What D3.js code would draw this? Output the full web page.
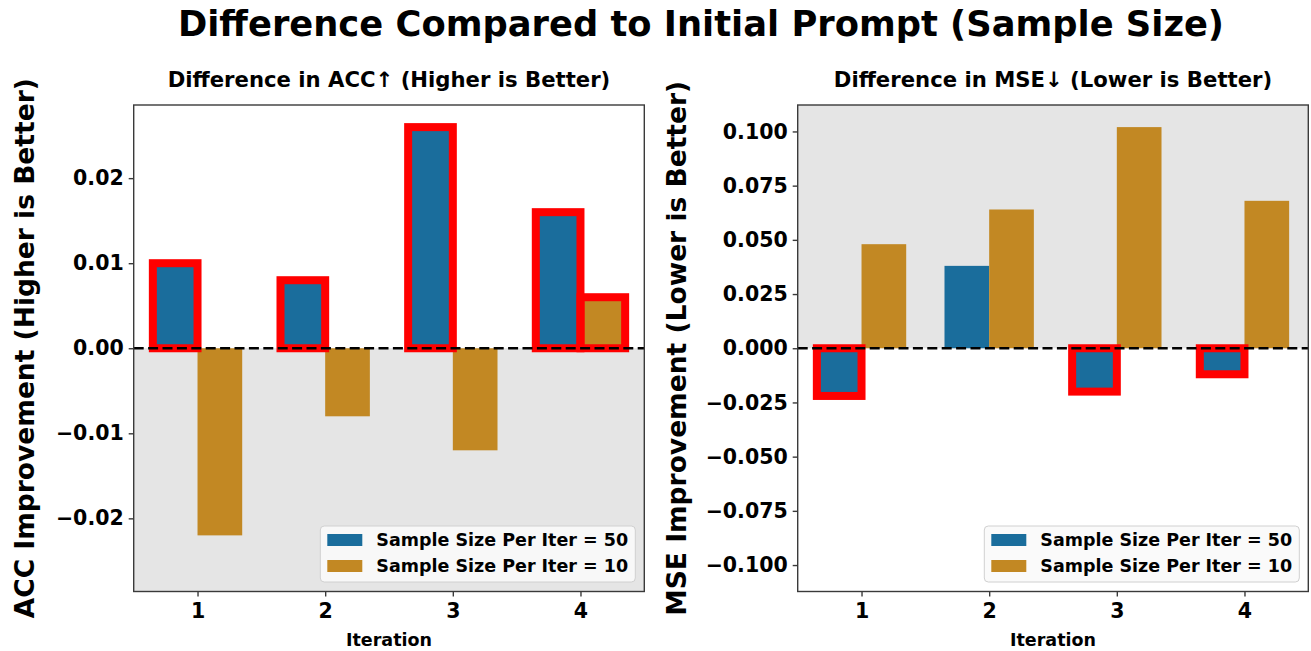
<!DOCTYPE html>
<html>
<head>
<meta charset="utf-8">
<script src="https://cdn.jsdelivr.net/npm/d3@7"></script>
<style>
  html, body { margin: 0; padding: 0; background: #fff; }
  svg { display: block; font-family: "DejaVu Sans", sans-serif; font-weight: bold; }
</style>
</head>
<body>
<svg id="chart" width="1311" height="651"></svg>
<script>
// ---------------- data ----------------
const iterations = [1, 2, 3, 4];
const seriesLabels = ["Sample Size Per Iter = 50", "Sample Size Per Iter = 10"];
const accSize50 = [0.010, 0.008, 0.026, 0.016];
const accSize10 = [-0.022, -0.008, -0.012, 0.006];
const mseSize50 = [-0.022, 0.038, -0.020, -0.012];
const mseSize10 = [0.048, 0.064, 0.102, 0.068];
const accTicks = [-0.02, -0.01, 0.00, 0.01, 0.02];
const mseTicks = [-0.100, -0.075, -0.050, -0.025, 0.000, 0.025, 0.050, 0.075, 0.100];
const mainTitle = "Difference Compared to Initial Prompt (Sample Size)";
const panels = [
  { title: "Difference in ACC\u2191 (Higher is Better)", ylabel: "ACC Improvement (Higher is Better)",
    s50: accSize50, s10: accSize10, ticks: accTicks, fmt: ".2f", higherBetter: true },
  { title: "Difference in MSE\u2193 (Lower is Better)", ylabel: "MSE Improvement (Lower is Better)",
    s50: mseSize50, s10: mseSize10, ticks: mseTicks, fmt: ".3f", higherBetter: false }
];

// ---------------- style ----------------
const colors = ["#1a6d9c", "#c28823"];
const shade = "#e5e5e5";
const spine = "#3a3a3a";
const barWidth = 0.35;

const svg = d3.select("#chart");

svg.append("text")
  .attr("x", 701).attr("y", 36)
  .attr("text-anchor", "middle")
  .style("font-size", "35.3px")
  .text(mainTitle);

const layout = [
  { left: 133.7, right: 644.3, ylabelX: 34 },
  { left: 797.7, right: 1308.3, ylabelX: 686 }
];
const plotTop = 105, plotBottom = 591.5;

panels.forEach((p, i) => {
  const L = layout[i];
  const g = svg.append("g");
  const all = p.s50.concat(p.s10);
  const m = d3.max(all, v => Math.abs(v)) * 1.1;
  const x = d3.scaleLinear().domain([0.5, 4.5]).range([L.left, L.right]);
  const y = d3.scaleLinear().domain([-m, m]).range([plotBottom, plotTop]);

  // shaded "bad" region
  const y0 = y(0);
  if (p.higherBetter) {
    g.append("rect").attr("x", L.left).attr("y", y0).attr("width", L.right - L.left).attr("height", plotBottom - y0).attr("fill", shade);
  } else {
    g.append("rect").attr("x", L.left).attr("y", plotTop).attr("width", L.right - L.left).attr("height", y0 - plotTop).attr("fill", shade);
  }

  const good = v => p.higherBetter ? v > 0 : v < 0;
  const bars = [];
  iterations.forEach((it, k) => {
    bars.push({ x0: it - barWidth, v: p.s50[k], c: colors[0] });
    bars.push({ x0: it, v: p.s10[k], c: colors[1] });
  });

  g.selectAll("rect.bar").data(bars).join("rect")
    .attr("class", "bar")
    .attr("x", d => x(d.x0))
    .attr("width", d => x(d.x0 + barWidth) - x(d.x0))
    .attr("y", d => y(Math.max(0, d.v)))
    .attr("height", d => Math.abs(y(d.v) - y(0)))
    .attr("fill", d => d.c);

  g.selectAll("rect.hl").data(bars.filter(d => good(d.v))).join("rect")
    .attr("class", "hl")
    .attr("x", d => x(d.x0))
    .attr("width", d => x(d.x0 + barWidth) - x(d.x0))
    .attr("y", d => y(Math.max(0, d.v)))
    .attr("height", d => Math.abs(y(d.v) - y(0)))
    .attr("fill", "none")
    .attr("stroke", "#ff0000")
    .attr("stroke-width", 8);

  // zero line
  g.append("line")
    .attr("x1", L.left).attr("x2", L.right)
    .attr("y1", y0).attr("y2", y0)
    .attr("stroke", "#000").attr("stroke-width", 2.6)
    .attr("stroke-dasharray", "10,4.4");

  // frame
  g.append("rect")
    .attr("x", L.left).attr("y", plotTop)
    .attr("width", L.right - L.left).attr("height", plotBottom - plotTop)
    .attr("fill", "none").attr("stroke", spine).attr("stroke-width", 1.4);

  // axes
  const ya = g.append("g").attr("transform", `translate(${L.left},0)`)
    .call(d3.axisLeft(y).tickValues(p.ticks).tickFormat(d3.format(p.fmt)).tickSize(5).tickPadding(5));
  const xa = g.append("g").attr("transform", `translate(0,${plotBottom})`)
    .call(d3.axisBottom(x).tickValues(iterations).tickFormat(d3.format("d")).tickSize(5).tickPadding(7));
  [ya, xa].forEach(a => {
    a.select(".domain").remove();
    a.selectAll(".tick line").attr("stroke", spine).attr("stroke-width", 1.4);
    a.selectAll(".tick text").attr("fill", "#000").style("font-size", "20.5px")
      .style("font-family", "DejaVu Sans").style("font-weight", "bold");
  });

  // titles
  g.append("text").attr("x", (L.left + L.right) / 2).attr("y", 87)
    .attr("text-anchor", "middle").style("font-size", "21.2px").text(p.title);
  g.append("text").attr("x", (L.left + L.right) / 2).attr("y", 646)
    .attr("text-anchor", "middle").style("font-size", "17.5px").text("Iteration");
  g.append("text")
    .attr("transform", `translate(${L.ylabelX},${(plotTop + plotBottom) / 2}) rotate(-90)`)
    .attr("text-anchor", "middle").style("font-size", "26.5px").text(p.ylabel);

  // legend
  const lw = 315, lh = 56;
  const lx = L.right - 9 - lw, ly = plotBottom - 9.5 - lh;
  const lg = g.append("g").attr("transform", `translate(${lx},${ly})`);
  lg.append("rect").attr("width", lw).attr("height", lh).attr("rx", 4)
    .attr("fill", "#fafafa").attr("fill-opacity", 0.9).attr("stroke", "#d0d0d0").attr("stroke-width", 1);
  seriesLabels.forEach((s, k) => {
    const cy = 14 + k * 26;
    lg.append("rect").attr("x", 7).attr("y", cy - 6).attr("width", 35).attr("height", 12).attr("fill", colors[k]);
    lg.append("text").attr("x", 56).attr("y", cy + 6).style("font-size", "17.5px").text(s);
  });
});
</script>
</body>
</html>
